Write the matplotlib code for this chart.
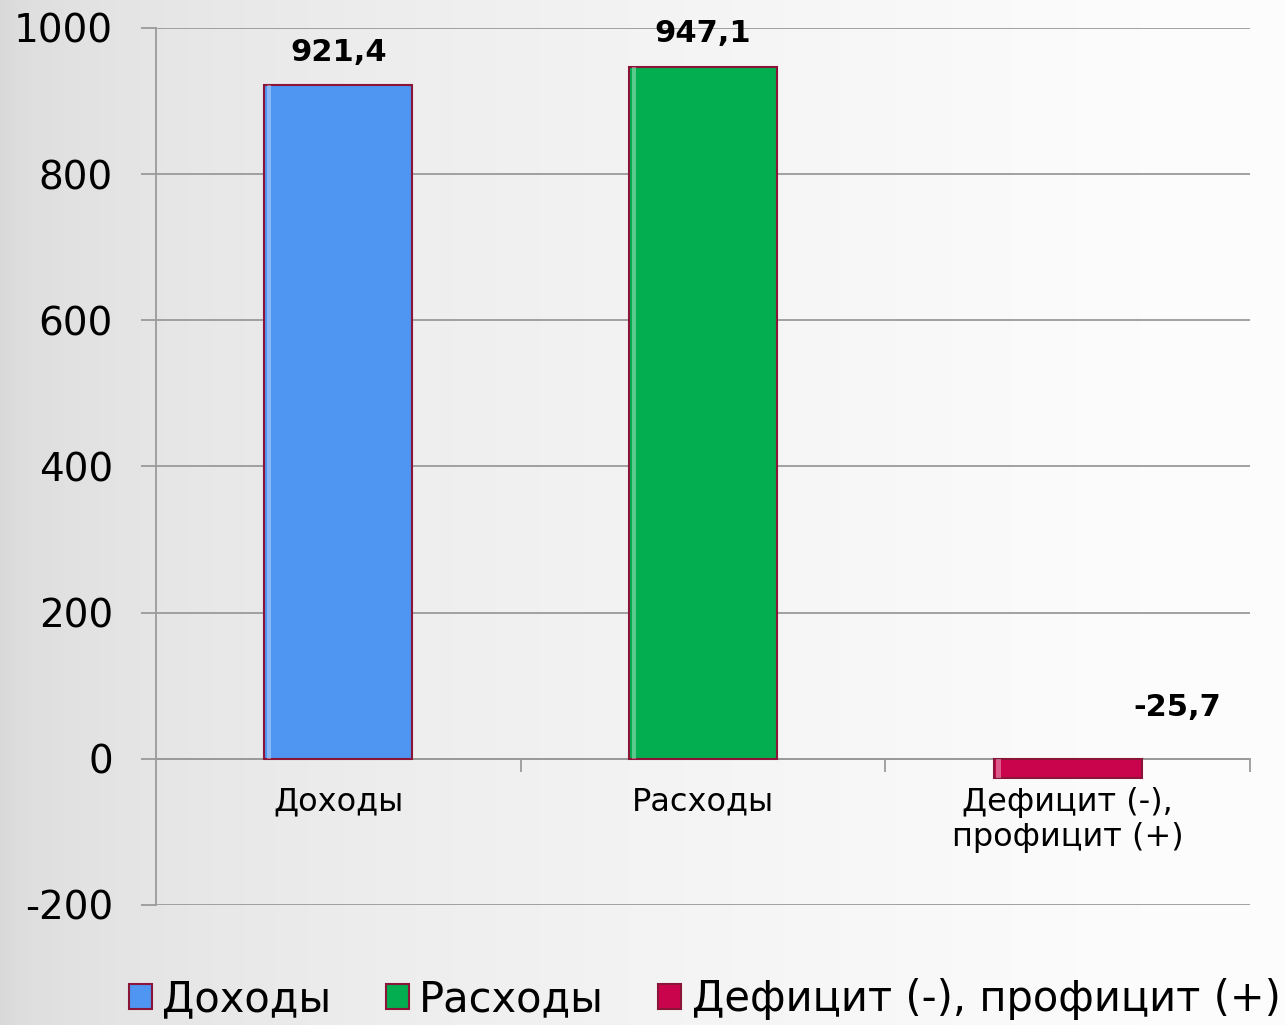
import matplotlib.pyplot as plt
import numpy as np

# Data
categories = ['Доходы', 'Расходы', 'Дефицит (-),\nпрофицит (+)']
legend_labels = ['Доходы', 'Расходы', 'Дефицит (-), профицит (+)']
values = [921.4, 947.1, -25.7]
value_text = ['921,4', '947,1', '-25,7']
colors = ['#4F95F2', '#03AE50', '#C9034C']
edge = '#8A1538'

plt.rcParams['font.family'] = ['DejaVu Sans']

fig = plt.figure(figsize=(12.86, 10.25), dpi=100)

# background gradient (grey on the left, lighter to the right)
bg = fig.add_axes([0, 0, 1, 1], zorder=-10)
gx = np.linspace(0, 1, 300)
gy = np.linspace(0, 1, 200)
X, Y = np.meshgrid(gx, gy)
shade = 0.85 + 0.14 * np.sqrt(np.clip(X * 1.1, 0, 1))
bg.imshow(np.dstack([shade] * 3), extent=[0, 1, 0, 1], aspect='auto', origin='lower',
          vmin=0, vmax=1)
bg.axis('off')

ax = fig.add_axes([0.1213, 0.1171, 0.8507, 0.8556])
ax.patch.set_alpha(0)

x = np.arange(len(categories))
bars = []
for i in range(len(values)):
    b = ax.bar(x[i], values[i], width=0.405, color=colors[i], edgecolor=edge,
               linewidth=1.5, label=legend_labels[i], zorder=3)
    bars.append(b)
    # bevel highlight on the left edge
    ax.bar(x[i] - 0.19, values[i], width=0.012, color='white', alpha=0.35,
           linewidth=0, zorder=4)

ax.set_ylim(-200, 1000)
ax.set_xlim(-0.5, 2.5)
ax.set_yticks(np.arange(-200, 1001, 200))
ax.set_yticklabels([str(v) for v in range(-200, 1001, 200)])
ax.yaxis.grid(True, color='#9a9a9a', linewidth=1.3, zorder=0)
ax.tick_params(axis='y', length=11, color='#9a9a9a', width=1.3, pad=20, labelsize=28)

ax.set_xticks(x)
ax.set_xticklabels(categories, linespacing=1.3)
ax.set_xticks([0.5, 1.5, 2.5], minor=True)
ax.tick_params(axis='x', which='major', length=0, pad=20, labelsize=23)
ax.tick_params(axis='x', which='minor', length=9, color='#9a9a9a', width=1.3, direction='out')

ax.spines['top'].set_visible(False)
ax.spines['right'].set_visible(False)
ax.spines['left'].set_color('#9a9a9a')
ax.spines['left'].set_linewidth(1.3)
ax.spines['bottom'].set_position(('data', 0))
ax.spines['bottom'].set_color('#9a9a9a')
ax.spines['bottom'].set_linewidth(1.3)
ax.spines['bottom'].set_zorder(2)

# value labels
ax.text(x[0], values[0] + 45, value_text[0], ha='center', va='center',
        fontsize=22, fontweight='bold')
ax.text(x[1], values[1] + 45, value_text[1], ha='center', va='center',
        fontsize=22, fontweight='bold')
ax.text(x[2] + 0.3, 70, value_text[2], ha='center', va='center',
        fontsize=22, fontweight='bold')

fig.legend(handles=[b[0] for b in bars], labels=legend_labels, loc='center',
           bbox_to_anchor=(0.548, 0.025), ncol=3, frameon=False, fontsize=30,
           handlelength=0.55, handleheight=0.55, handletextpad=0.25,
           columnspacing=1.3)

plt.savefig('out.png', dpi=100)
